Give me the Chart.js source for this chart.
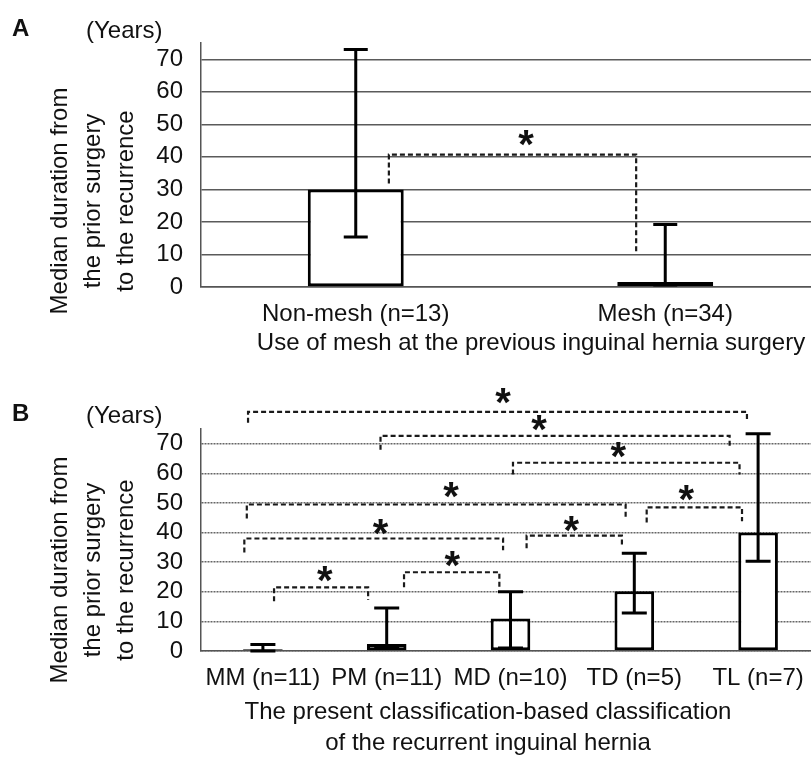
<!DOCTYPE html>
<html>
<head>
<meta charset="utf-8">
<script src="https://cdn.jsdelivr.net/npm/chart.js@4.4.0/dist/chart.umd.min.js"></script>
<style>
  html, body { margin: 0; padding: 0; background: #fff; overflow: hidden; }
  #wrap { position: relative; width: 811px; height: 761px; overflow: hidden; }
  canvas { position: absolute; left: 0; }
  #chartA { top: 0; }
  #chartB { top: 365px; }
</style>
</head>
<body>
<div id="wrap">
  <canvas id="chartA" width="821" height="365"></canvas>
  <canvas id="chartB" width="821" height="396"></canvas>
</div>
<script>
// Panel A: use of mesh at the previous surgery
const meshLabels = ['Non-mesh (n=13)', 'Mesh (n=34)'];
const meshMedian = [30, 1.5];
const meshLow = [15.4, 0.6];
const meshHigh = [73, 19.2];
// [from, to, level, dropLeft, dropRight, starX, starY] in category index / years
const meshBrackets = [
  [0.107, 0.906, 40.7, 31.8, 11, 0.55, 45]
];

// Panel B: present classification of the recurrent hernia
const classLabels = ['MM (n=11)', 'PM (n=11)', 'MD (n=10)', 'TD (n=5)', 'TL (n=7)'];
const classMedian = [0.6, 2.4, 11, 20.2, 40];
const classLow = [0, 1, 1, 12.8, 30.3];
const classHigh = [2.2, 14.5, 20, 33, 73.4];
const classBrackets = [
  [-0.12, 3.91, 80.8, 77.1, 77.4, 1.94, 85.2],
  [0.95, 3.77, 72.7, 68, 68.3, 2.23, 76.1],
  [2.02, 3.85, 63.6, 59.6, 59.6, 2.87, 67],
  [-0.13, 2.93, 49.5, 44.8, 45.1, 1.52, 53.5],
  [3.10, 3.87, 48.5, 43.4, 43.8, 3.42, 52.5],
  [-0.15, 1.94, 38, 33.3, 34, 0.95, 41],
  [2.13, 2.90, 39, 34.7, 35, 2.49, 41.8],
  [1.14, 1.91, 26.6, 21.5, 21.5, 1.53, 30],
  [0.09, 0.85, 21.5, 16.8, 17.2, 0.50, 25]
];

const yTickValues = [0, 10, 20, 30, 40, 50, 60, 70];
const yTitleLines = ['Median duration from', 'the prior surgery', 'to the recurrence'];

const FONT = "'Liberation Sans', Arial, Helvetica, sans-serif";
Chart.defaults.font.family = FONT;
Chart.defaults.color = '#111';

// error bars and significance brackets, drawn through the chart scales
const markPlugin = {
  id: 'marks',
  afterDatasetsDraw(chart, args, opts) {
    const ctx = chart.ctx;
    const xs = chart.scales.x, ys = chart.scales.y;
    ctx.save();
    ctx.strokeStyle = '#000';
    ctx.lineWidth = 3;
    opts.low.forEach((lo, i) => {
      const x = xs.getPixelForValue(i);
      const yl = ys.getPixelForValue(lo);
      const yh = ys.getPixelForValue(opts.high[i]);
      const w = opts.capWidth / 2;
      ctx.beginPath();
      ctx.moveTo(x, yl); ctx.lineTo(x, yh);
      ctx.moveTo(x - w, yh); ctx.lineTo(x + w, yh);
      ctx.moveTo(x - w, yl); ctx.lineTo(x + w, yl);
      ctx.stroke();
    });
    ctx.strokeStyle = '#1a1a1a';
    ctx.lineWidth = 2.2;
    ctx.setLineDash([5, 3]);
    opts.brackets.forEach(b => {
      const x1 = xs.getPixelForValue(b[0]);
      const x2 = xs.getPixelForValue(b[1]);
      const yLev = ys.getPixelForValue(b[2]);
      ctx.beginPath();
      ctx.moveTo(x1, ys.getPixelForValue(b[3]));
      ctx.lineTo(x1, yLev);
      ctx.lineTo(x2, yLev);
      ctx.lineTo(x2, ys.getPixelForValue(b[4]));
      ctx.stroke();
    });
    ctx.setLineDash([]);
    ctx.fillStyle = '#111';
    ctx.font = 'bold 40px ' + FONT;
    ctx.textAlign = 'center';
    ctx.textBaseline = 'alphabetic';
    opts.brackets.forEach(b => {
      ctx.fillText('*', xs.getPixelForValue(b[5]), ys.getPixelForValue(b[6]) + 17);
    });
    ctx.restore();
  },
  afterDraw(chart, args, opts) {
    const ctx = chart.ctx;
    ctx.save();
    ctx.fillStyle = '#111';
    ctx.textBaseline = 'middle';
    // panel letter and unit
    ctx.textAlign = 'left';
    ctx.font = 'bold 24px ' + FONT;
    ctx.fillText(opts.letter, 12, opts.headY);
    ctx.font = '24px ' + FONT;
    ctx.fillText('(Years)', 86, opts.headY + 2);
    // rotated y title
    ctx.textAlign = 'center';
    [60, 93, 126].forEach((x, i) => {
      ctx.save();
      ctx.translate(x, opts.yTitleY);
      ctx.rotate(-Math.PI / 2);
      ctx.fillText(yTitleLines[i], 0, 0);
      ctx.restore();
    });
    // x title
    opts.xTitle.forEach((t, i) => {
      ctx.fillText(t, opts.xTitleX, opts.xTitleY + i * 31);
    });
    ctx.restore();
  }
};

function makeChart(id, cfg) {
  return new Chart(document.getElementById(id), {
    type: 'bar',
    data: {
      labels: cfg.labels,
      datasets: [{
        data: cfg.values,
        backgroundColor: '#fff',
        borderColor: '#000',
        borderWidth: 3,
        borderSkipped: false,
        barPercentage: cfg.barPct,
        categoryPercentage: 1
      }]
    },
    options: {
      responsive: false,
      animation: false,
      devicePixelRatio: 1,
      layout: { padding: { top: cfg.padTop, right: 1, left: 0, bottom: 0 } },
      plugins: {
        legend: { display: false },
        tooltip: { enabled: false },
        marks: cfg.marks
      },
      scales: {
        x: {
          afterFit: s => { s.height = cfg.xAxisHeight; },
          grid: { display: false },
          border: { display: true, color: '#555', width: 1.5 },
          ticks: { font: { size: 24 }, padding: 5, color: '#111', maxRotation: 0, autoSkip: false }
        },
        y: {
          min: 0,
          max: 75,
          afterFit: s => { s.width = 201; },
          afterBuildTicks: s => { s.ticks = yTickValues.map(v => ({ value: v })); },
          grid: { color: cfg.gridColor, lineWidth: 1.5, drawTicks: false },
          // in v4 border.dash sets the dash of the grid lines
          border: { display: true, color: '#555', width: 1.5, dash: cfg.gridDash },
          ticks: { font: { size: 24 }, padding: 18, color: '#111', autoSkip: false }
        }
      }
    },
    plugins: [markPlugin]
  });
}

const chartA = makeChart('chartA', {
  labels: meshLabels,
  values: meshMedian,
  barPct: 0.31,
  padTop: 43,
  xAxisHeight: 78,
  gridColor: '#5a5a5a',
  gridDash: [],
  marks: {
    low: meshLow, high: meshHigh, capWidth: 24, brackets: meshBrackets,
    letter: 'A', headY: 29, yTitleY: 201,
    xTitle: ['Use of mesh at the previous inguinal hernia surgery'], xTitleX: 531, xTitleY: 343
  }
});

const chartB = makeChart('chartB', {
  labels: classLabels,
  values: classMedian,
  barPct: 0.32,
  padTop: 64,
  xAxisHeight: 110,
  gridColor: '#666',
  gridDash: [2, 1],
  marks: {
    low: classLow, high: classHigh, capWidth: 25, brackets: classBrackets,
    letter: 'B', headY: 414 - 365, yTitleY: 570 - 365,
    xTitle: ['The present classification-based classification', 'of the recurrent inguinal hernia'],
    xTitleX: 488, xTitleY: 712 - 365
  }
});
</script>
</body>
</html>
